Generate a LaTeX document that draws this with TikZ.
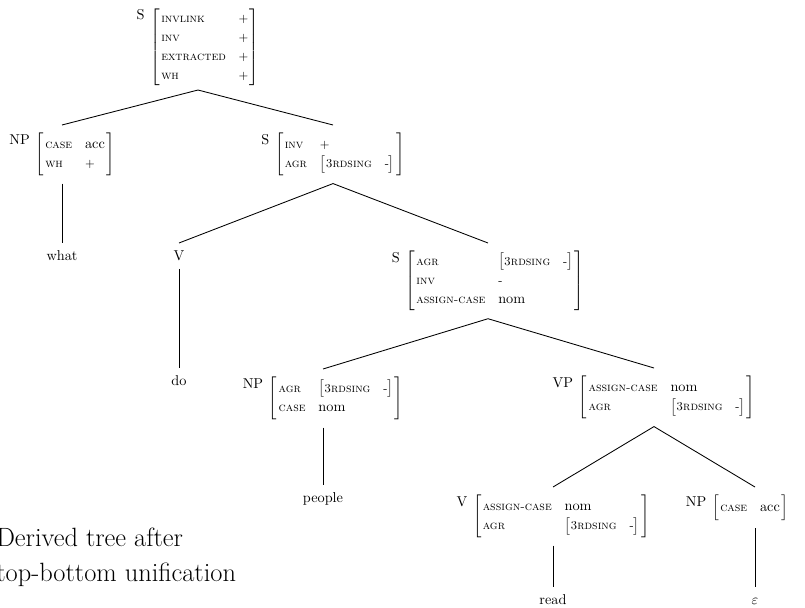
\documentclass[tikz,border=0pt]{standalone}
\usetikzlibrary{positioning}

\newsavebox{\avmbox}
\renewcommand{\arraystretch}{1.12}
\newcommand{\ft}[1]{{\fontsize{8.5}{10}\selectfont\textsc{#1}}}
\newcommand{\sv}[1]{{\fontsize{8.5}{10}\selectfont #1}}
\newcommand{\agr}{$\bigl[$\ft{3rdsing}\hspace{9pt}\sv{-}$\bigr]$}
\newcommand{\catavm}[2]{%
  \sbox{\avmbox}{$\left[\begin{tabular}{@{\hspace{1pt}}l@{\hspace{9pt}}l@{\hspace{1pt}}}#2\end{tabular}\right]$}%
  \raisebox{\dimexpr\ht\avmbox-8pt\relax}{#1}\hspace{4pt}\usebox{\avmbox}}

\tikzset{
  cat/.style={inner sep=0pt, outer sep=5.5pt, anchor=north},
  word/.style={inner sep=0pt, outer sep=5.5pt, anchor=north, text height=1.6ex, text depth=.25ex},
  branch/.style={line width=0.6pt},
  capt/.style={inner sep=0pt, anchor=north west, align=left, font=\fontsize{18.5}{24.5}\selectfont},
}

\begin{document}
\begin{tikzpicture}[x=0.7pt, y=-0.7pt]
    \useasboundingbox (0,0) rectangle (805,607);

    % categories with their feature structures
    \node[cat, anchor=south, outer sep=3pt] (s0) at (198,90) {\catavm{S}{\ft{invlink} & \sv{+}\\ \ft{inv} & \sv{+}\\ \ft{extracted} & \sv{+}\\ \ft{wh} & \sv{+}}};
    \node[cat] (np1) at (62,125) {\catavm{NP}{\ft{case} & acc\\ \ft{wh} & \sv{+}}};
    \node[cat] (s1) at (333,125) {\catavm{S}{\ft{inv} & \sv{+}\\ \ft{agr} & \agr}};
    \node[cat] (v1) at (179,243) {V};
    \node[cat] (s2) at (488,243) {\catavm{S}{\ft{agr} & \agr\\ \ft{inv} & \sv{-}\\ \ft{assign-case} & nom}};
    \node[cat] (np2) at (323,369) {\catavm{NP}{\ft{agr} & \agr\\ \ft{case} & nom}};
    \node[cat] (vp) at (654,368) {\catavm{VP}{\ft{assign-case} & nom\\ \ft{agr} & \agr}};
    \node[cat] (v2) at (553,487) {\catavm{V}{\ft{assign-case} & nom\\ \ft{agr} & \agr}};
    \node[cat] (np3) at (737,487) {\catavm{NP}{\ft{case} & acc}};

    % words
    \node[word] (what) at (62,243) {what};
    \node[word] (do) at (179,368) {do};
    \node[word] (people) at (323,485) {people};
    \node[word] (read) at (553,587) {read};
    \node[word] (eps) at (755,587) {$\varepsilon$};

    % branches
    \foreach \a/\b in {s0/np1, s0/s1, np1/what, s1/v1, s1/s2, v1/do, s2/np2, s2/vp, np2/people, vp/v2, v2/read} {
        \draw[branch] (\a.south) -- (\b.north);
    }
    \draw[branch] (vp.south) -- (eps |- np3.north);
    \draw[branch] (np3.south -| eps) -- (eps.north);

    \node[capt] (cap) at (-4,528) {Derived tree after\\top-bottom unification};

\end{tikzpicture}
\end{document}
